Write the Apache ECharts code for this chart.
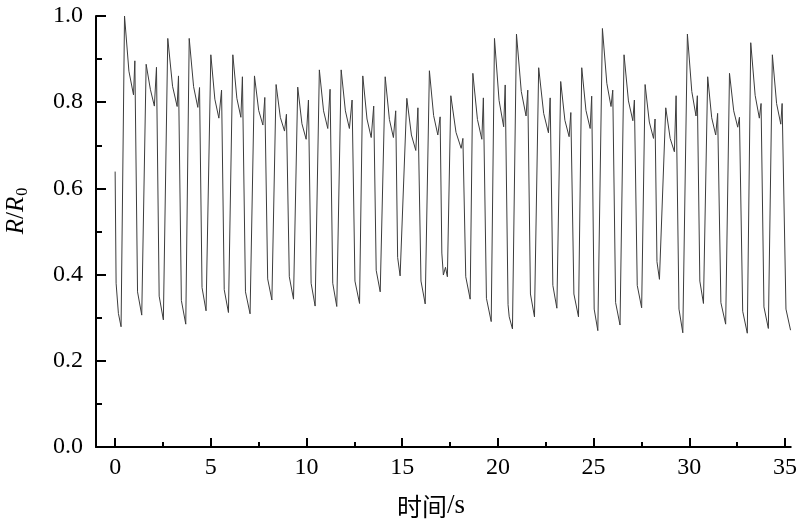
<!DOCTYPE html>
<html>
<head>
<meta charset="utf-8">
<title>R/R0 vs time</title>
<script src="https://cdn.jsdelivr.net/npm/echarts@6/dist/echarts.min.js"></script>
<style>
  html, body { margin: 0; padding: 0; background: #fff; }
  #chart { width: 800px; height: 526px; }
</style>
</head>
<body>
<div id="chart"></div>
<script>
// trace, cycle by cycle (time in s, R/R0)
var startT = [0, 0.05, 0.17];
var startV = [0.639, 0.38, 0.31];

// bottoms of each cycle (a few have a small double dip / kink)
var lowT = [0.31, 1.39, 2.52, 3.69, 4.75, 5.92, 7.05, 8.19, 9.32, 10.45, 11.58, 12.77, 13.85, 14.89, 16.20,
  [17.15, 17.26, 17.36], 18.55, 19.65, [20.59, 20.76], 21.91, 23.08, 24.21, 25.22, 26.38, 27.51, 28.44,
  29.66, 30.74, 31.90, 33.03, 34.13, 35.29];
var lowV = [0.279, 0.306, 0.295, 0.285, 0.316, 0.312, 0.309, 0.341, 0.343, 0.327, 0.326, 0.333, 0.36, 0.397, 0.332,
  [0.399, 0.417, 0.395], 0.343, 0.291, [0.302, 0.274], 0.302, 0.322, 0.302, 0.27, 0.283, 0.323, 0.389,
  0.265, 0.333, 0.285, 0.264, 0.275, 0.271];

var peakT = [0.49, 1.62, 2.75, 3.87, 5.00, 6.15, 7.28, 8.41, 9.54, 10.67, 11.81, 12.94, 14.11, 15.24, 16.42, 17.54,
  18.69, 19.82, 20.97, 22.13, 23.28, 24.38, 25.46, 26.59, 27.69, 28.77, 29.90, 30.96, 32.10, 33.21, 34.34];
var peakV = [1.00, 0.888, 0.948, 0.948, 0.91, 0.91, 0.861, 0.841, 0.835, 0.875, 0.875, 0.861, 0.859, 0.809, 0.873, 0.815,
  0.867, 0.948, 0.958, 0.88, 0.848, 0.88, 0.971, 0.91, 0.841, 0.787, 0.958, 0.859, 0.867, 0.938, 0.91];

// halfway down the decay after each peak
var midT = [0.72, 1.84, 3.00, 4.10, 5.21, 6.36, 7.50, 8.63, 9.76, 10.89, 12.03, 13.16, 14.33, 15.48, 16.64, 17.81,
  18.93, 20.06, 21.22, 22.39, 23.50, 24.60, 25.69, 26.82, 27.91, 29.00, 30.13, 31.17, 32.32, 33.44, 34.56];
var midV = [0.872, 0.83, 0.837, 0.836, 0.807, 0.809, 0.781, 0.765, 0.75, 0.78, 0.78, 0.761, 0.76, 0.724, 0.769, 0.73,
  0.76, 0.804, 0.825, 0.774, 0.758, 0.781, 0.844, 0.803, 0.754, 0.716, 0.825, 0.764, 0.78, 0.816, 0.797];

// end of the decay, just before the small spike
var dipT = [0.96, 2.05, 3.24, 4.32, 5.42, 6.57, 7.72, 8.85, 9.98, 11.11, 12.24, 13.38, 14.54, 15.71, 16.86, 18.08,
  19.16, 20.30, 21.47, 22.64, 23.72, 24.82, 25.91, 27.05, 28.13, 29.22, 30.35, 31.38, 32.53, 33.66, 34.78];
var dipV = [0.817, 0.791, 0.79, 0.788, 0.763, 0.765, 0.747, 0.733, 0.714, 0.739, 0.739, 0.718, 0.718, 0.688, 0.724, 0.693,
  0.714, 0.743, 0.768, 0.729, 0.72, 0.739, 0.79, 0.757, 0.716, 0.685, 0.768, 0.724, 0.742, 0.763, 0.749];

var spikeT = [1.03, 2.16, 3.31, 4.41, 5.56, 6.65, 7.82, 8.95, 10.10, 11.23, 12.38, 13.51, 14.66, 15.82, 16.98, 18.17,
  19.24, 20.38, 21.56, 22.73, 23.81, 24.90, 26.00, 27.13, 28.21, 29.31, 30.42, 31.48, 32.62, 33.75, 34.85];
var spikeV = [0.896, 0.881, 0.861, 0.834, 0.828, 0.859, 0.811, 0.772, 0.805, 0.83, 0.805, 0.791, 0.78, 0.787, 0.766, 0.716,
  0.81, 0.84, 0.828, 0.81, 0.776, 0.814, 0.828, 0.805, 0.761, 0.815, 0.815, 0.774, 0.765, 0.797, 0.797];

// where the fast fall bends into the bottom
var kneeT = [1.17, 2.30, 3.46, 4.54, 5.70, 6.81, 7.97, 9.10, 10.24, 11.37, 12.53, 13.64, 14.76, 15.98, 17.07, 18.32,
  19.40, 20.53, 21.70, 22.87, 23.97, 25.03, 26.15, 27.28, 28.31, 29.46, 30.55, 31.65, 32.79, 33.90, 35.05];
var kneeV = [0.36, 0.35, 0.34, 0.37, 0.365, 0.36, 0.39, 0.395, 0.38, 0.38, 0.385, 0.41, 0.44, 0.385, 0.45, 0.395,
  0.345, 0.33, 0.355, 0.375, 0.355, 0.32, 0.335, 0.375, 0.43, 0.32, 0.385, 0.335, 0.315, 0.325, 0.32];

var majorX = [0, 5, 10, 15, 20, 25, 30, 35];
var minorX = [2.5, 7.5, 12.5, 17.5, 22.5, 27.5, 32.5];

var data = [];
for (var k = 0; k < startT.length; k++) {
  data.push([startT[k], startV[k]]);
}
function pushLow(i) {
  var ts = [].concat(lowT[i]);
  var vs = [].concat(lowV[i]);
  for (var j = 0; j < ts.length; j++) data.push([ts[j], vs[j]]);
}
pushLow(0);
for (var i = 0; i < peakT.length; i++) {
  data.push([peakT[i], peakV[i]]);
  data.push([midT[i], midV[i]]);
  data.push([dipT[i], dipV[i]]);
  data.push([spikeT[i], spikeV[i]]);
  data.push([kneeT[i], kneeV[i]]);
  pushLow(i + 1);
}

var serif = '"Liberation Serif", "Times New Roman", serif';
var chart = echarts.init(document.getElementById('chart'));
chart.setOption({
  animation: false,
  backgroundColor: '#fff',
  grid: { left: 96, right: 9, top: 16, bottom: 79 },
  xAxis: [{
    type: 'value',
    min: -1,
    max: 35.3,
    position: 'bottom',
    axisLine: { onZero: false, lineStyle: { color: '#000', width: 2 } },
    axisTick: { inside: true, length: 9, customValues: majorX, lineStyle: { color: '#000', width: 2 } },
    axisLabel: { customValues: majorX, color: '#000', fontFamily: serif, fontSize: 24, margin: 9 },
    splitLine: { show: false }
  }, {
    type: 'value',
    min: -1,
    max: 35.3,
    position: 'bottom',
    axisLine: { show: false, onZero: false },
    axisTick: { inside: true, length: 5, customValues: minorX, lineStyle: { color: '#000', width: 2 } },
    axisLabel: { show: false },
    splitLine: { show: false }
  }],
  yAxis: {
    type: 'value',
    min: 0,
    max: 1,
    interval: 0.2,
    axisLine: { show: true, onZero: false, lineStyle: { color: '#000', width: 2 } },
    axisTick: { inside: true, length: 10, lineStyle: { color: '#000', width: 2 } },
    minorTick: { show: true, splitNumber: 2, length: 6, lineStyle: { color: '#000', width: 2 } },
    axisLabel: {
      color: '#000', fontFamily: serif, fontSize: 24, margin: 13,
      formatter: function (v) { return v.toFixed(1); }
    },
    splitLine: { show: false }
  },
  graphic: [{
    type: 'text',
    x: 16,
    y: 211,
    rotation: Math.PI / 2,
    style: {
      text: '{i|R}{n|/}{i|R}{s|0}',
      align: 'center',
      verticalAlign: 'middle',
      fill: '#000',
      rich: {
        i: { fontFamily: serif, fontStyle: 'italic', fontSize: 25, lineHeight: 30, verticalAlign: 'middle' },
        n: { fontFamily: serif, fontSize: 25, lineHeight: 30, verticalAlign: 'middle' },
        s: { fontFamily: serif, fontSize: 16, lineHeight: 30, verticalAlign: 'bottom', padding: [0, 0, 0, 1] }
      }
    }
  }, {
    type: 'text',
    x: 431,
    y: 506,
    style: {
      text: '{c|时间}{n|/s}',
      align: 'center',
      verticalAlign: 'middle',
      fill: '#000',
      rich: {
        c: { fontFamily: '"Noto Sans CJK SC", sans-serif', fontSize: 25, lineHeight: 30 },
        n: { fontFamily: serif, fontSize: 27, lineHeight: 30 }
      }
    }
  }],
  series: [{
    type: 'line',
    xAxisIndex: 0,
    data: data,
    showSymbol: false,
    symbol: 'none',
    clip: false,
    lineStyle: { color: '#3c3c3c', width: 1 }
  }]
});
</script>
</body>
</html>
